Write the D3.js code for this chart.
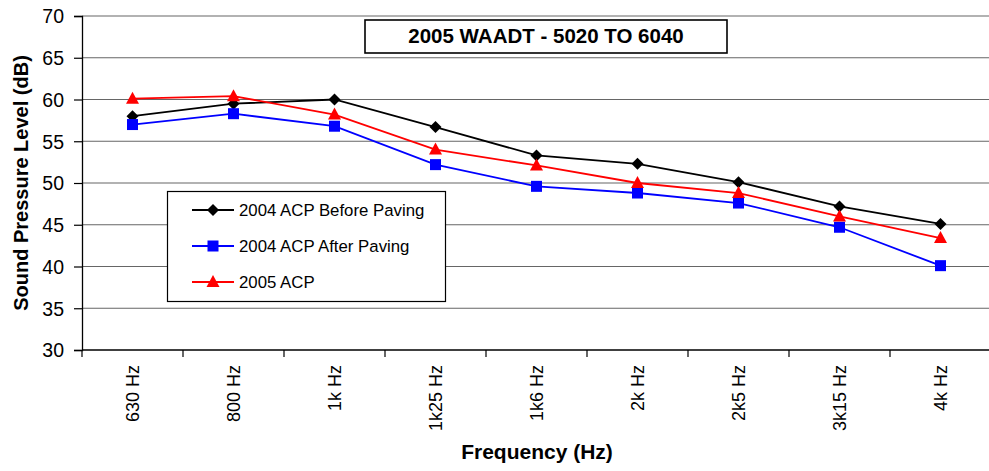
<!DOCTYPE html>
<html><head><meta charset="utf-8">
<script src="https://cdn.jsdelivr.net/npm/d3@7"></script>
<style>body{margin:0;background:#fff}svg{display:block}text{font-family:"Liberation Sans",Arial,sans-serif}</style>
</head><body>
<svg id="c" width="989" height="471"></svg>
<script>
const categories = ["630 Hz","800 Hz","1k Hz","1k25 Hz","1k6 Hz","2k Hz","2k5 Hz","3k15 Hz","4k Hz"];
const before2004 = [58.0,59.5,60.0,56.7,53.3,52.3,50.1,47.2,45.1];
const after2004 = [57.0,58.3,56.8,52.2,49.6,48.8,47.6,44.7,40.1];
const acp2005 = [60.1,60.4,58.2,54.0,52.1,50.0,48.8,46.0,43.4];
const yTicks = [30,35,40,45,50,55,60,65,70];
const titleText = "2005 WAADT - 5020 TO 6040";
const series = [
  {name:"2004 ACP Before Paving", values:before2004, color:"#000000", shape:"diamond"},
  {name:"2004 ACP After Paving", values:after2004, color:"#0000ff", shape:"square"},
  {name:"2005 ACP", values:acp2005, color:"#ff0000", shape:"triangle"}
];

const svg = d3.select("#c");
const L=82, R=991, T=16, B=350;
const x = d3.scaleBand().domain(categories).range([L,R]);
const y = d3.scaleLinear().domain([30,70]).range([B,T]);

// gridlines
svg.append("g").selectAll("line").data(yTicks.filter(d=>d>30)).join("line")
  .attr("x1",L).attr("x2",R).attr("y1",d=>y(d)).attr("y2",d=>y(d))
  .attr("stroke","#666").attr("stroke-width",1.2);

// y axis
const ya = svg.append("g").attr("transform",`translate(${L},0)`)
  .call(d3.axisLeft(y).tickValues(yTicks).tickSize(8).tickPadding(10));
ya.select(".domain").attr("stroke","#000").attr("stroke-width",1.3);
ya.selectAll(".tick line").attr("stroke","#000").attr("stroke-width",1.2);
ya.selectAll("text").attr("font-size",19.5).attr("fill","#000").attr("dy","0.35em");

// x axis
const xa = svg.append("g").attr("transform",`translate(0,${B})`)
  .call(d3.axisBottom(x).tickSize(0).tickPadding(0));
xa.select(".domain").remove();
svg.append("line").attr("x1",L).attr("x2",R).attr("y1",B).attr("y2",B).attr("stroke","#000").attr("stroke-width",1.3);
const bounds = categories.map(c=>x(c));
svg.append("g").selectAll("line").data(bounds).join("line")
  .attr("x1",d=>d).attr("x2",d=>d).attr("y1",B).attr("y2",B+7).attr("stroke","#000").attr("stroke-width",1.2);
xa.selectAll(".tick text")
  .attr("font-size",18).attr("fill","#000")
  .attr("text-anchor","end").attr("dy","0.36em")
  .attr("transform","translate(0,15) rotate(-90)");

// axis titles
svg.append("text").attr("transform","translate(28,183) rotate(-90)")
  .attr("text-anchor","middle").attr("font-size",20).attr("font-weight","bold").text("Sound Pressure Level (dB)");
svg.append("text").attr("x",537).attr("y",459).attr("text-anchor","middle")
  .attr("font-size",21).attr("font-weight","bold").text("Frequency (Hz)");

// lines
const line = d3.line().x((d,i)=>x(categories[i])+x.bandwidth()/2).y(d=>y(d));
function marker(g, shape, color, cx, cy){
  if(shape==="diamond"){
    g.append("path").attr("d",`M${cx},${cy-6}L${cx+6},${cy}L${cx},${cy+6}L${cx-6},${cy}Z`).attr("fill",color);
  } else if(shape==="square"){
    g.append("rect").attr("x",cx-5.5).attr("y",cy-5.5).attr("width",11).attr("height",11).attr("fill",color);
  } else {
    g.append("path").attr("d",`M${cx},${cy-7}L${cx+6.5},${cy+5}L${cx-6.5},${cy+5}Z`).attr("fill",color);
  }
}
series.forEach(s=>{
  svg.append("path").datum(s.values).attr("d",line).attr("fill","none").attr("stroke",s.color).attr("stroke-width",1.8);
});
series.forEach(s=>{
  const g = svg.append("g");
  s.values.forEach((v,i)=>marker(g,s.shape,s.color,x(categories[i])+x.bandwidth()/2,y(v)));
});

// title box
svg.append("rect").attr("x",365).attr("y",20).attr("width",362).attr("height",33)
  .attr("fill","#fff").attr("stroke","#000").attr("stroke-width",1.6);
svg.append("text").attr("x",546).attr("y",42.5).attr("text-anchor","middle")
  .attr("font-size",20.5).attr("font-weight","bold").text(titleText);

// legend
const lg = svg.append("g");
lg.append("rect").attr("x",167.5).attr("y",191.5).attr("width",278).attr("height",110)
  .attr("fill","#fff").attr("stroke","#000").attr("stroke-width",1.2);
series.forEach((s,i)=>{
  const cy = 210 + i*36;
  lg.append("line").attr("x1",192).attr("x2",234).attr("y1",cy).attr("y2",cy).attr("stroke",s.color).attr("stroke-width",1.8);
  marker(lg,s.shape,s.color,213,cy);
  lg.append("text").attr("x",239).attr("y",cy).attr("dy","0.36em").attr("font-size",16.8).text(s.name);
});
</script>
</body></html>
